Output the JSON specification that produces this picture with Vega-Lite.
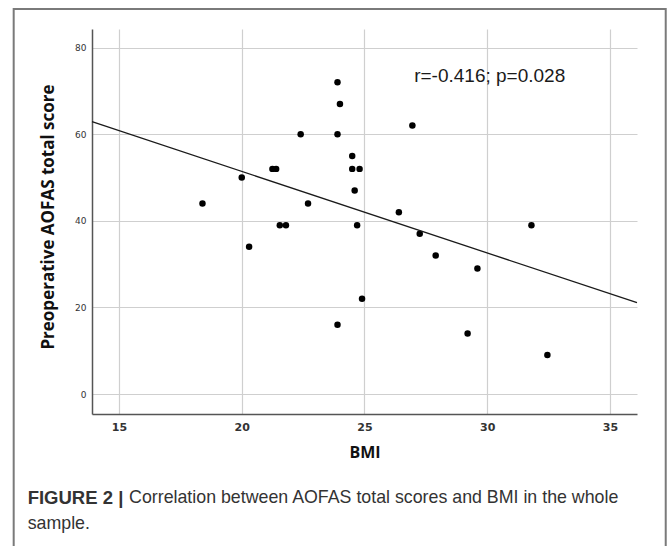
{
  "$schema": "https://vega.github.io/schema/vega-lite/v6.json",
  "width": 545,
  "height": 385,
  "autosize": {"type": "none"},
  "padding": {"left": 92, "top": 29, "right": 32, "bottom": 132},
  "background": "white",
  "config": {
    "view": {"stroke": null},
    "axis": {
      "grid": true,
      "gridColor": "#cfcfcf",
      "gridWidth": 1.2,
      "domainColor": "#555555",
      "domainWidth": 1.5,
      "ticks": false,
      "labelFont": "DejaVu Sans",
      "labelColor": "#333333",
      "titleFont": "Open Sans",
      "titleFontWeight": "bold",
      "titleFontSize": 16,
      "titleColor": "#111111"
    }
  },
  "datasets": {
    "points": [
      {"bmi": 23.9, "score": 72},
      {"bmi": 24.0, "score": 67},
      {"bmi": 22.4, "score": 60},
      {"bmi": 23.9, "score": 60},
      {"bmi": 24.5, "score": 55},
      {"bmi": 24.5, "score": 52},
      {"bmi": 24.8, "score": 52},
      {"bmi": 21.25, "score": 52},
      {"bmi": 21.4, "score": 52},
      {"bmi": 20.0, "score": 50},
      {"bmi": 24.6, "score": 47},
      {"bmi": 18.4, "score": 44},
      {"bmi": 22.7, "score": 44},
      {"bmi": 21.55, "score": 39},
      {"bmi": 21.8, "score": 39},
      {"bmi": 24.7, "score": 39},
      {"bmi": 20.3, "score": 34},
      {"bmi": 23.9, "score": 16},
      {"bmi": 24.9, "score": 22},
      {"bmi": 26.95, "score": 62},
      {"bmi": 26.4, "score": 42},
      {"bmi": 27.25, "score": 37},
      {"bmi": 27.9, "score": 32},
      {"bmi": 29.6, "score": 29},
      {"bmi": 31.8, "score": 39},
      {"bmi": 29.2, "score": 14},
      {"bmi": 32.45, "score": 9}
    ],
    "fit": [
      {"bmi": 13.9, "score": 62.9},
      {"bmi": 36.1, "score": 21.1}
    ],
    "labels": [
      {"part": "stat", "text": "r=-0.416; p=0.028"},
      {"part": "fig", "text": "FIGURE 2 |"},
      {"part": "cap1", "text": "Correlation between AOFAS total scores and BMI in the whole"},
      {"part": "cap2", "text": "sample."}
    ]
  },
  "layer": [
    {
      "data": {"name": "points"},
      "mark": {"type": "circle", "color": "#000000", "opacity": 1, "size": 42},
      "encoding": {
        "x": {
          "field": "bmi",
          "type": "quantitative",
          "scale": {"domain": [13.9, 36.1], "nice": false, "zero": false},
          "axis": {
            "title": "BMI",
            "values": [15, 20, 25, 30, 35],
            "labelFontSize": 11,
            "labelFontWeight": "bold",
            "labelPadding": 7,
            "titlePadding": 12
          }
        },
        "y": {
          "field": "score",
          "type": "quantitative",
          "scale": {"domain": [-4.6, 84.3], "nice": false, "zero": false},
          "axis": {
            "title": "Preoperative AOFAS total score",
            "titleFontSize": 17,
            "titleY": 187.5,
            "values": [0, 20, 40, 60, 80],
            "labelFontSize": 9,
            "labelPadding": 6,
            "titlePadding": 17
          }
        }
      }
    },
    {
      "data": {"name": "fit"},
      "mark": {"type": "line", "color": "#1a1a1a", "strokeWidth": 1.3},
      "encoding": {
        "x": {"field": "bmi", "type": "quantitative"},
        "y": {"field": "score", "type": "quantitative"}
      }
    },
    {
      "data": {"name": "labels"},
      "transform": [{"filter": "datum.part === 'stat'"}],
      "mark": {"type": "text", "font": "Liberation Sans", "fontSize": 19, "color": "#1a1a1a", "align": "center", "baseline": "middle"},
      "encoding": {
        "text": {"field": "text"},
        "x": {"datum": 30.1, "type": "quantitative"},
        "y": {"datum": 73.5, "type": "quantitative"}
      }
    },
    {
      "data": {"name": "labels"},
      "transform": [{"filter": "datum.part === 'fig'"}],
      "mark": {"type": "text", "font": "Liberation Sans", "fontWeight": "bold", "fontSize": 18.5, "color": "#333333", "align": "left", "baseline": "middle", "clip": false},
      "encoding": {
        "text": {"field": "text"},
        "x": {"datum": 11.28, "type": "quantitative"},
        "y": {"datum": -24.1, "type": "quantitative"}
      }
    },
    {
      "data": {"name": "labels"},
      "transform": [{"filter": "datum.part === 'cap1'"}],
      "mark": {"type": "text", "font": "Liberation Sans", "fontSize": 17.8, "color": "#333333", "align": "left", "baseline": "middle", "clip": false},
      "encoding": {
        "text": {"field": "text"},
        "x": {"datum": 15.41, "type": "quantitative"},
        "y": {"datum": -24.1, "type": "quantitative"}
      }
    },
    {
      "data": {"name": "labels"},
      "transform": [{"filter": "datum.part === 'cap2'"}],
      "mark": {"type": "text", "font": "Liberation Sans", "fontSize": 17.8, "color": "#333333", "align": "left", "baseline": "middle", "clip": false},
      "encoding": {
        "text": {"field": "text"},
        "x": {"datum": 11.28, "type": "quantitative"},
        "y": {"datum": -30.1, "type": "quantitative"}
      }
    },
    {
      "data": {"name": "labels"},
      "transform": [{"filter": "datum.part === 'stat'"}],
      "mark": {"type": "rect", "fillOpacity": 0, "stroke": "#7a7a7a", "strokeWidth": 2, "clip": false},
      "encoding": {
        "x": {"datum": 10.71, "type": "quantitative"},
        "x2": {"datum": 37.27},
        "y": {"datum": 88.93, "type": "quantitative"},
        "y2": {"datum": -40}
      }
    }
  ]
}
